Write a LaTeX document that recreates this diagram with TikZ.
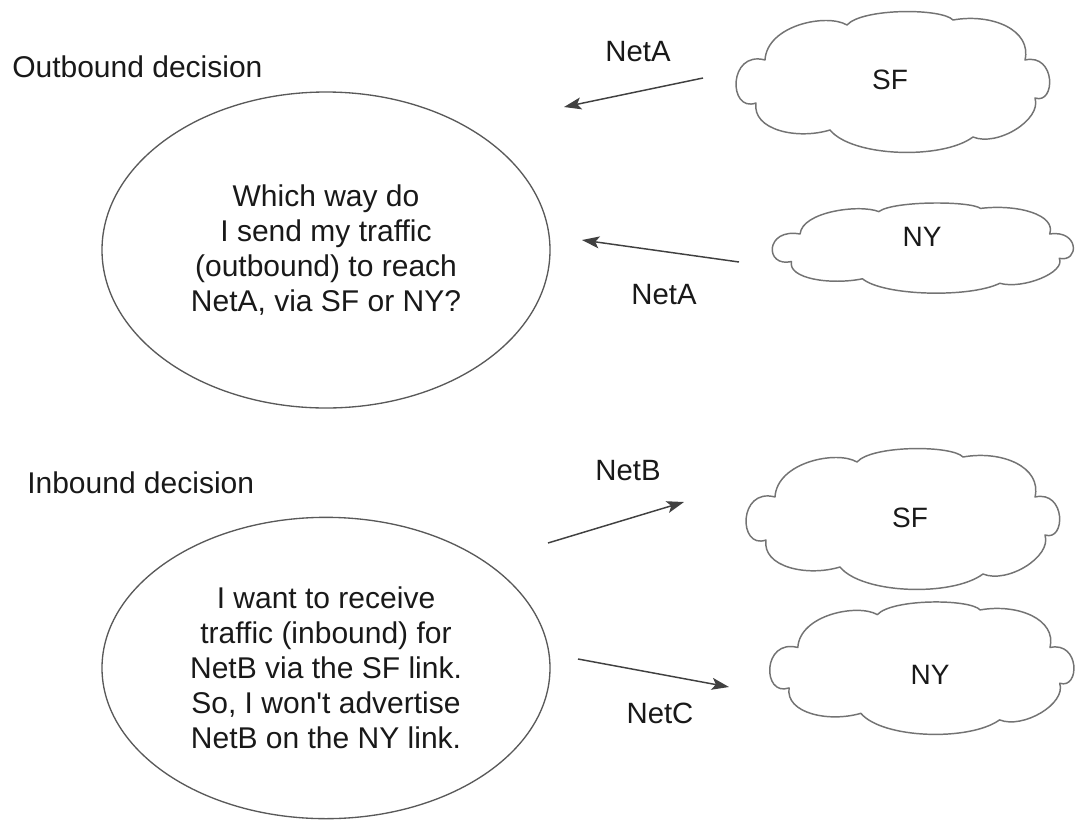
\documentclass[tikz,border=0pt]{standalone}
\usepackage{fontspec}
\setmainfont{Liberation Sans}[Ligatures=TeXOff]
\usetikzlibrary{arrows.meta,shapes.geometric}
\newcommand\cloudshape[4]{%
  \draw[cloudline, shift={(#1,#2)}, xscale=#3, yscale=-#4]
    (-127,25) .. controls (-164,35) and (-164,-28) .. (-136,-18)
    .. controls (-140,-45) and (-95,-55) .. (-62,-45)
    .. controls (-40,-72) and (50,-75) .. (81,-52)
    .. controls (105,-62) and (150,-35) .. (143,-13)
    .. controls (164,-20) and (164,32) .. (133,25)
    .. controls (140,55) and (100,72) .. (61,65)
    .. controls (50,77) and (-30,77) .. (-45,60)
    .. controls (-65,72) and (-125,60) .. (-127,25) -- cycle;}
\tikzset{
  txt/.style={font=\fontsize{22.5}{26.25}\selectfont, text=black!90, inner sep=0pt},
  lbl/.style={txt, font=\fontsize{22}{26.25}\selectfont},
  cname/.style={txt, font=\fontsize{21}{26.25}\selectfont},
  bubble/.style={ellipse, draw=black!65, line width=1pt, minimum width=336pt, inner sep=0pt, align=center, txt},
  cloudline/.style={draw=black!55, line width=1.1pt, line join=round},
  flow/.style={draw=black!75, line width=1.1pt, -{Stealth[length=13pt,width=9pt,inset=3pt]}},
}
\begin{document}
\begin{tikzpicture}[x=0.75pt, y=-0.75pt]
\useasboundingbox (0,0) rectangle (1075,822);
% section titles
\node[txt, anchor=base west] (outt) at (12,77) {Outbound decision};
\node[txt, anchor=base west] (inbt) at (27,493) {Inbound decision};
% ellipses
\node[bubble, minimum height=237pt] (q1) at (326,250) {Which way do\\I send my traffic\\(outbound) to reach\\NetA, via SF or NY?};
\node[bubble, minimum height=226pt] (q2) at (326,668) {I want to receive\\traffic (inbound) for\\NetB via the SF link.\\So, I won't advertise\\NetB on the NY link.};
% clouds
\cloudshape{892}{85}{1}{1}
\node[cname] (sf1) at (890,80) {SF};
\cloudshape{922}{250}{0.96}{0.64}
\node[cname] (ny1) at (922,237) {NY};
\cloudshape{902}{522}{1}{1}
\node[cname] (sf2) at (910,518) {SF};
\cloudshape{921}{671}{0.97}{0.94}
\node[cname] (ny2) at (930,675) {NY};
% arrow ends
\coordinate (a1s) at (703,78);  \coordinate (a1e) at (564,107);
\coordinate (a2s) at (739,262); \coordinate (a2e) at (582,240);
\coordinate (b1s) at (548,543); \coordinate (b1e) at (684,502);
\coordinate (b2s) at (578,659); \coordinate (b2e) at (729,687);
\draw[flow] (a1s) -- (a1e);
\draw[flow] (a2s) -- (a2e);
\draw[flow] (b1s) -- (b1e);
\draw[flow] (b2s) -- (b2e);
% arrow labels
\node[lbl] (la1) at (638,52) {NetA};
\node[lbl] (la2) at (664,295) {NetA};
\node[lbl] (lb1) at (628,471) {NetB};
\node[lbl] (lc1) at (660,713) {NetC};
\end{tikzpicture}
\end{document}
